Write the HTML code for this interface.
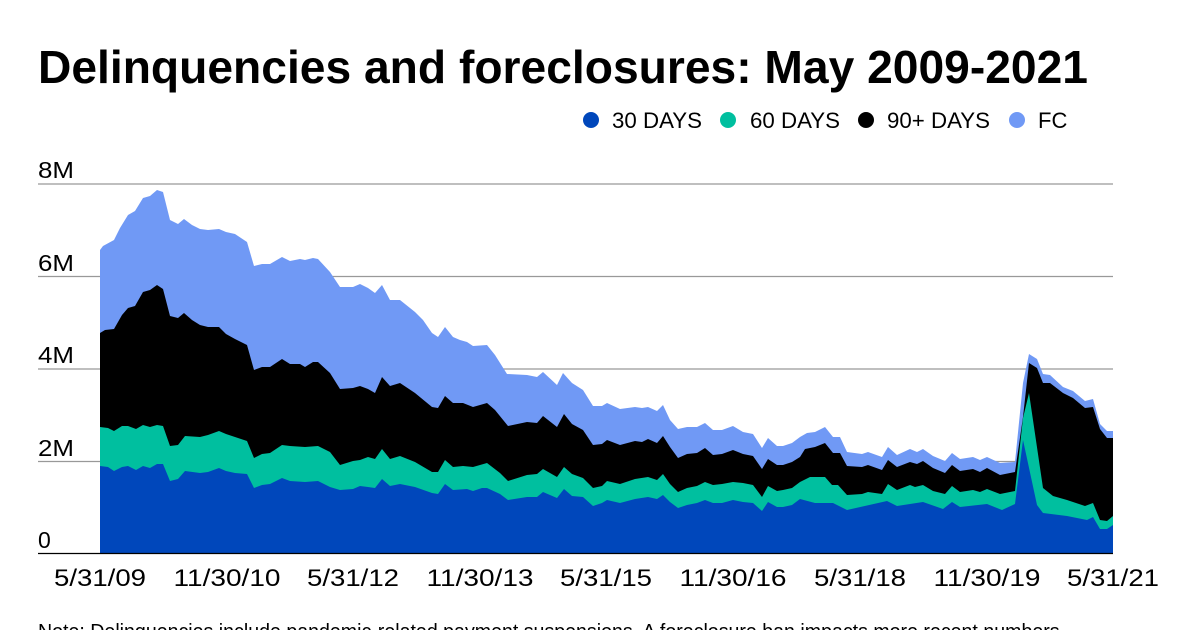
<!DOCTYPE html>
<html><head><meta charset="utf-8"><style>
html,body{margin:0;padding:0;background:#fff;width:1200px;height:630px;overflow:hidden}
svg{display:block;font-family:"Liberation Sans",sans-serif}
</style></head><body>
<svg width="1200" height="630" viewBox="0 0 1200 630" xmlns="http://www.w3.org/2000/svg">
<text x="38" y="83" font-size="46" font-weight="bold" fill="#000" textLength="1050" lengthAdjust="spacingAndGlyphs">Delinquencies and foreclosures: May 2009-2021</text>
<g font-size="22" fill="#000">
<circle cx="591" cy="120" r="8" fill="#0047BB"/><text x="612" y="128" textLength="90" lengthAdjust="spacingAndGlyphs">30 DAYS</text>
<circle cx="728" cy="120" r="8" fill="#00BF9F"/><text x="750" y="128" textLength="90" lengthAdjust="spacingAndGlyphs">60 DAYS</text>
<circle cx="866" cy="120" r="8" fill="#000"/><text x="887" y="128" textLength="103" lengthAdjust="spacingAndGlyphs">90+ DAYS</text>
<circle cx="1017" cy="120" r="8" fill="#7099F5"/><text x="1038" y="128">FC</text>
</g>
<g stroke="#999" stroke-width="1.2">
<line x1="38" y1="184" x2="1113" y2="184"/>
<line x1="38" y1="276.5" x2="1113" y2="276.5"/>
<line x1="38" y1="369" x2="1113" y2="369"/>
<line x1="38" y1="461.5" x2="1113" y2="461.5"/>
</g>
<g font-size="23" fill="#000">
<text x="38" y="178" textLength="36" lengthAdjust="spacingAndGlyphs">8M</text>
<text x="38" y="271" textLength="36" lengthAdjust="spacingAndGlyphs">6M</text>
<text x="38" y="363" textLength="36" lengthAdjust="spacingAndGlyphs">4M</text>
<text x="38" y="456" textLength="36" lengthAdjust="spacingAndGlyphs">2M</text>
<text x="38" y="548">0</text>
</g>
<polygon fill="#7099F5" points="100,553 100,250 103,246 114,240 120,228 128,215 135,211 143,198 150,196 157,190 163,192 170,220 178,224 184,219 192,225 200,229 208,230 219,229 226,232 235,234 247,242 254,266 262,264 270,264 282,257 290,261 300,259 305,260 313,258 318,259 330,272 340,287 353,287 360,284 368,288 375,293 382,285 390,300 400,300 415,312 423,320 432,333 438,337 445,327 453,337 460,340 467,342 473,346 487,345 495,355 507,374 527,375 537,377 543,372 557,385 563,373 572,383 583,390 593,406 602,406 607,403 620,409 635,407 642,408 648,407 657,411 663,405 670,420 678,429 687,427 697,427 705,423 713,430 722,430 733,426 743,432 753,434 762,448 768,438 777,446 783,446 792,443 800,437 807,433 815,432 825,427 833,437 840,437 847,452 862,454 868,452 882,457 888,447 897,455 910,449 917,452 923,449 933,456 945,461 952,453 960,459 973,457 980,460 987,457 1000,463 1015,462 1023,383 1029,354 1037,359 1043,374 1050,375 1063,387 1073,391 1085,401 1093,399 1100,424 1107,431 1113,431 1113,553"/>
<polygon fill="#000" points="100,553 100,333 105,330 114,329 122,315 128,308 135,306 143,292 150,290 157,285 163,289 170,316 178,318 184,313 192,320 200,325 208,327 219,327 226,334 235,339 247,345 254,370 262,367 270,367 282,359 290,364 300,364 305,367 313,362 318,362 330,373 340,389 353,388 360,386 368,389 375,393 382,377 390,386 400,383 415,393 432,407 438,408 445,396 453,403 463,403 473,407 487,403 495,410 508,426 527,422 537,423 543,416 557,427 564,414 572,424 583,430 593,445 602,444 607,440 620,445 635,441 642,442 648,439 657,443 663,436 670,447 678,458 687,454 697,453 705,448 713,455 722,454 733,450 743,454 753,456 762,469 768,459 777,465 783,465 792,462 800,457 805,449 815,447 825,443 833,453 840,453 847,466 862,467 868,465 882,470 888,460 897,467 910,462 917,464 923,461 933,468 945,473 952,465 960,471 973,469 980,472 987,468 1000,475 1015,472 1023,417 1029,363 1037,368 1043,383 1050,383 1063,393 1073,398 1085,408 1093,407 1100,429 1107,438 1113,438 1113,553"/>
<polygon fill="#00BF9F" points="100,553 100,427 108,428 114,431 122,426 128,426 136,429 143,425 150,427 157,425 163,426 170,446 178,445 185,436 200,437 208,435 219,431 226,434 235,437 247,441 254,458 262,454 270,453 282,445 290,446 305,447 318,446 330,452 340,465 353,461 360,460 368,457 375,459 382,449 390,459 400,456 415,462 432,472 438,472 445,460 453,467 463,466 473,467 487,463 500,473 508,481 527,475 537,474 543,469 557,477 564,467 572,474 583,478 593,488 602,486 607,481 620,484 635,479 648,477 657,480 663,474 670,484 678,492 687,488 697,486 705,482 713,485 722,484 733,482 743,483 753,485 762,497 768,486 777,491 783,490 792,488 800,482 810,477 825,477 832,485 838,485 847,495 862,494 868,492 882,494 888,484 897,490 910,485 915,487 923,485 933,491 945,494 952,486 960,492 973,490 980,492 987,489 1000,494 1015,491 1023,418 1029,393 1043,488 1053,496 1067,500 1085,506 1093,503 1100,520 1107,521 1113,516 1113,553"/>
<polygon fill="#0047BB" points="100,553 100,466 108,467 114,471 122,467 128,466 136,470 143,466 150,468 157,464 163,464 170,481 178,479 185,471 200,473 208,472 219,468 226,471 235,473 247,474 254,488 262,485 270,484 282,478 290,481 305,482 318,481 330,487 340,490 353,489 360,486 368,487 375,488 382,479 390,486 400,484 415,487 432,493 438,494 445,484 453,490 467,489 473,491 482,488 487,488 500,494 508,500 527,497 537,497 543,492 557,498 564,489 572,496 583,497 593,506 602,503 607,500 620,503 635,499 648,497 657,499 663,495 670,502 678,508 687,505 697,503 705,500 713,503 722,503 733,500 743,502 753,503 762,511 768,502 777,507 783,507 792,505 800,499 815,503 833,503 847,510 887,501 897,506 923,502 943,509 952,502 960,507 987,504 1002,510 1015,504 1023,440 1037,505 1043,513 1067,516 1087,520 1093,517 1100,529 1107,529 1113,525 1113,553"/>
<line x1="38" y1="553.5" x2="1113" y2="553.5" stroke="#000" stroke-width="1.2"/>
<g font-size="24" fill="#000" text-anchor="middle" lengthAdjust="spacingAndGlyphs">
<text x="100" y="586" textLength="92" lengthAdjust="spacingAndGlyphs">5/31/09</text>
<text x="227" y="586" textLength="107" lengthAdjust="spacingAndGlyphs">11/30/10</text>
<text x="353" y="586" textLength="92" lengthAdjust="spacingAndGlyphs">5/31/12</text>
<text x="480" y="586" textLength="107" lengthAdjust="spacingAndGlyphs">11/30/13</text>
<text x="606" y="586" textLength="92" lengthAdjust="spacingAndGlyphs">5/31/15</text>
<text x="733" y="586" textLength="107" lengthAdjust="spacingAndGlyphs">11/30/16</text>
<text x="860" y="586" textLength="92" lengthAdjust="spacingAndGlyphs">5/31/18</text>
<text x="987" y="586" textLength="107" lengthAdjust="spacingAndGlyphs">11/30/19</text>
<text x="1113" y="586" textLength="92" lengthAdjust="spacingAndGlyphs">5/31/21</text>
</g>
<text x="38" y="638" font-size="20" fill="#000" textLength="1027" lengthAdjust="spacingAndGlyphs">Note: Delinquencies include pandemic-related payment suspensions. A foreclosure ban impacts more recent numbers.</text>
</svg>
</body></html>
